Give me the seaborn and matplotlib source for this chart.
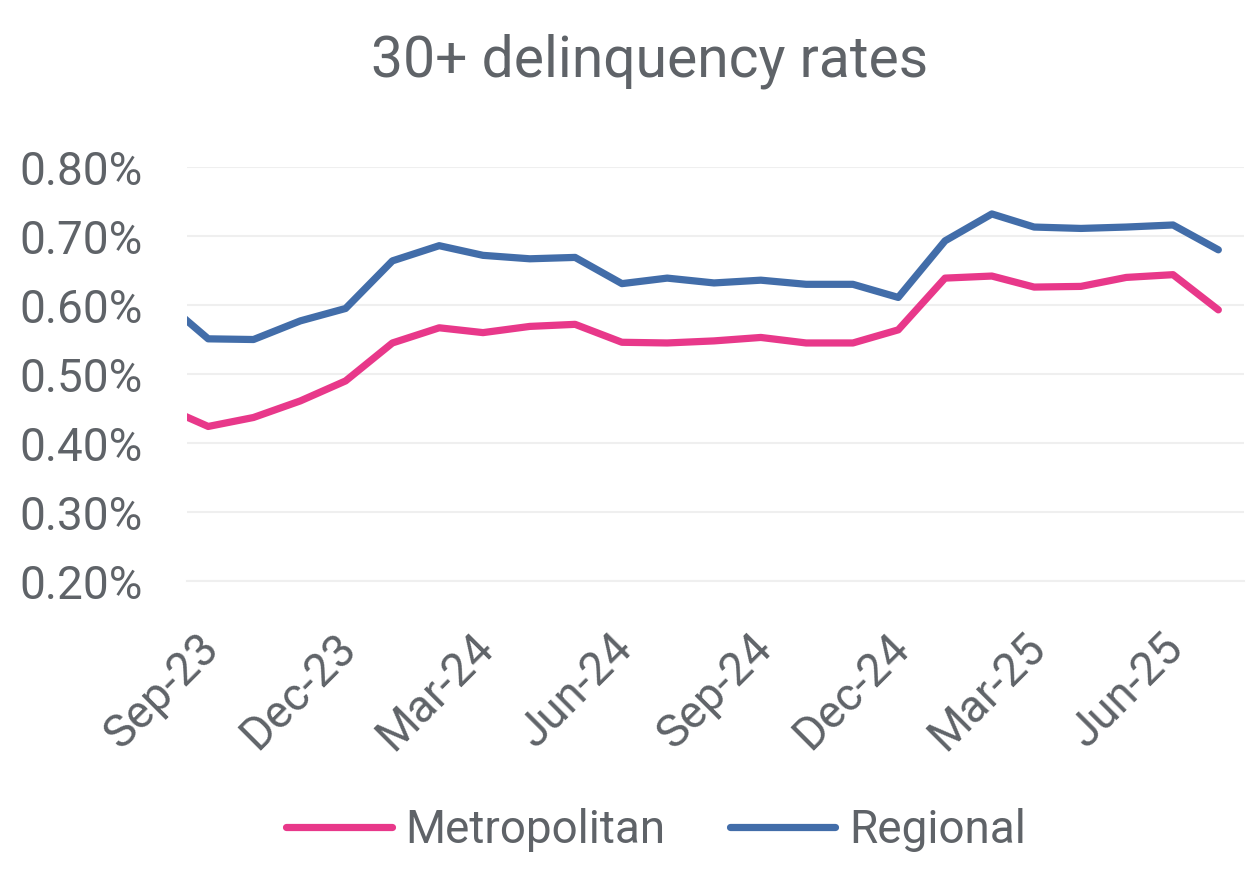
import pandas as pd
import seaborn as sns
import matplotlib.pyplot as plt
import matplotlib.dates as mdates
import matplotlib.transforms as mtransforms
from matplotlib.ticker import FuncFormatter

# monthly 30+ delinquency rates (%), Aug-23 .. Jul-25
months = ["2023-08", "2023-09", "2023-10", "2023-11", "2023-12",
          "2024-01", "2024-02", "2024-03", "2024-04", "2024-05", "2024-06",
          "2024-07", "2024-08", "2024-09", "2024-10", "2024-11", "2024-12",
          "2025-01", "2025-02", "2025-03", "2025-04", "2025-05", "2025-06",
          "2025-07"]
metropolitan = [0.454, 0.424, 0.437, 0.461, 0.490,
                0.545, 0.567, 0.560, 0.569, 0.572, 0.546,
                0.545, 0.548, 0.553, 0.545, 0.545, 0.564,
                0.639, 0.642, 0.626, 0.627, 0.640, 0.644,
                0.593]
regional = [0.609, 0.551, 0.550, 0.577, 0.595,
            0.664, 0.686, 0.672, 0.667, 0.669, 0.631,
            0.639, 0.632, 0.636, 0.630, 0.630, 0.611,
            0.693, 0.732, 0.713, 0.711, 0.713, 0.716,
            0.680]
series_names = ["Metropolitan", "Regional"]
colors = ["#E8388A", "#426DA9"]
yticks = [0.2, 0.3, 0.4, 0.5, 0.6, 0.7, 0.8]

TEXT = "#5f6368"
GRID = "#efefef"

# points sit in the middle of each month
dates = pd.to_datetime(months) + pd.Timedelta(days=14)
df = pd.DataFrame({
    "date": list(dates) * 2,
    "rate": metropolitan + regional,
    "series": ["Metropolitan"] * len(months) + ["Regional"] * len(months),
})

sns.set_style("white")
plt.rcParams["font.family"] = ["Roboto", "DejaVu Sans"]

fig = plt.figure(figsize=(12.47, 8.69), dpi=100)
ax = fig.add_axes([0.15, 0.3314, 0.8476, 0.4764])

sns.lineplot(data=df, x="date", y="rate", hue="series", hue_order=series_names,
             palette=colors, linewidth=5.2, ax=ax, legend=False,
             solid_capstyle="round")

ax.set_xlim(pd.Timestamp("2023-09-01"), pd.Timestamp("2025-08-01"))
ax.set_ylim(0.2, 0.8)
ax.set_yticks(yticks)
ax.yaxis.set_major_formatter(FuncFormatter(lambda v, p: f"{v:.2f}%"))
ax.set_xticks(pd.date_range("2023-09-01", "2025-06-01", freq="3MS"))
ax.xaxis.set_major_formatter(mdates.DateFormatter("%b-%y"))
ax.set_xlabel("")
ax.set_ylabel("")

ax.grid(axis="y", color=GRID, linewidth=1.5)
ax.set_axisbelow(True)
for s in ["top", "right", "left"]:
    ax.spines[s].set_visible(False)
ax.spines["bottom"].set_color(GRID)
ax.spines["bottom"].set_linewidth(1.5)

ax.tick_params(axis="y", length=0, labelsize=33, labelcolor=TEXT, pad=32)
ax.tick_params(axis="x", length=10, width=1.5, color=GRID, labelsize=33,
               labelcolor=TEXT, pad=33)
shift = mtransforms.ScaledTranslation(0.25, 0, fig.dpi_scale_trans)
for lab in ax.get_xticklabels():
    lab.set_rotation(45)
    lab.set_ha("right")
    lab.set_va("center")
    lab.set_rotation_mode("anchor")
    lab.set_transform(lab.get_transform() + shift)

fig.text(0.521, 0.929, "30+ delinquency rates", ha="center", va="center",
         fontsize=41, color=TEXT)

handles = [plt.Line2D([], [], color=c, linewidth=5.2, solid_capstyle="round")
           for c in colors]
leg = fig.legend(handles, series_names, loc="center", bbox_to_anchor=(0.526, 0.045),
                 ncol=2, frameon=False, fontsize=33, handlelength=2.3,
                 handletextpad=0.3, columnspacing=1.4)
for t in leg.get_texts():
    t.set_color(TEXT)

fig.savefig("out.png", dpi=100)
